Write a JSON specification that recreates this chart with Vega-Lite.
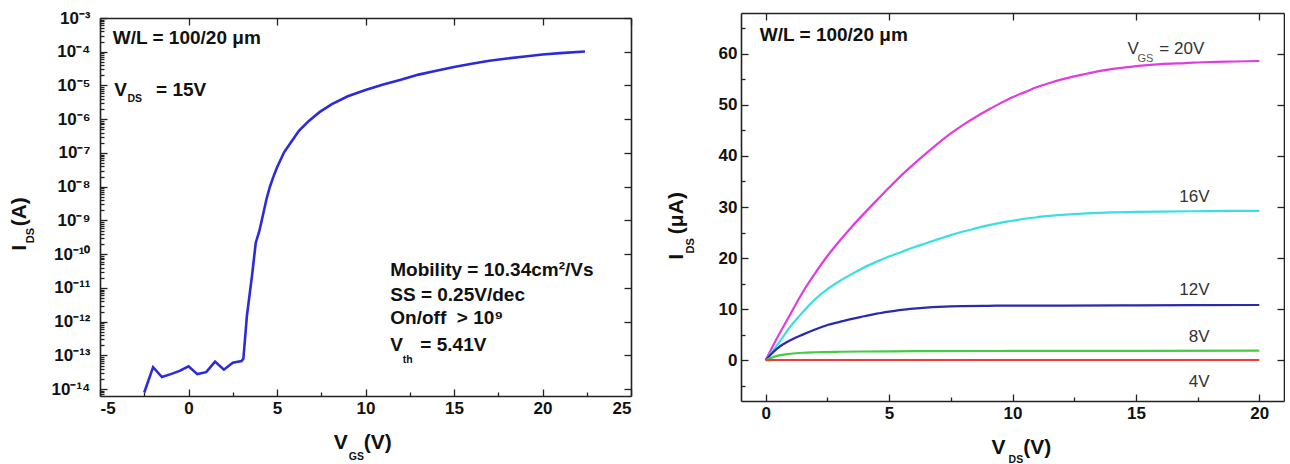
{
  "$schema": "https://vega.github.io/schema/vega-lite/v6.json",
  "background": "white",
  "padding": {"left": 9, "top": 9, "right": 0, "bottom": 0},
  "spacing": 110,
  "bounds": "flush",
  "center": true,
  "config": {
    "view": {"stroke": null},
    "axis": {"grid": false, "domainColor": "#222", "domainWidth": 1.6, "tickColor": "#222", "tickWidth": 1.3, "labelFont": "Liberation Sans", "labelFontWeight": "bold", "labelFontSize": 17, "labelColor": "#111", "labelOverlap": false, "title": null},
    "text": {"font": "Liberation Sans"}
  },
  "hconcat": [
    {
      "width": 531,
      "height": 378,
      "layer": [
        {
          "data": {"values": [
            {"vgs": -2.5, "ids": 8e-15}, {"vgs": -2.0, "ids": 4.5e-14}, {"vgs": -1.5, "ids": 2.3e-14}, {"vgs": -1.0, "ids": 2.8e-14},
            {"vgs": -0.5, "ids": 3.5e-14}, {"vgs": 0.0, "ids": 4.8e-14}, {"vgs": 0.5, "ids": 2.8e-14}, {"vgs": 1.0, "ids": 3.2e-14},
            {"vgs": 1.5, "ids": 6.6e-14}, {"vgs": 2.0, "ids": 3.8e-14}, {"vgs": 2.5, "ids": 6.1e-14}, {"vgs": 3.0, "ids": 6.8e-14},
            {"vgs": 3.1, "ids": 8e-14}, {"vgs": 3.3, "ids": 1.5e-12}, {"vgs": 3.6, "ids": 2.6e-11}, {"vgs": 3.8, "ids": 2.2e-10},
            {"vgs": 4.0, "ids": 4.8e-10}, {"vgs": 4.2, "ids": 1.4e-9}, {"vgs": 4.4, "ids": 4.2e-9}, {"vgs": 4.6, "ids": 1.0e-8},
            {"vgs": 4.8, "ids": 2.0e-8}, {"vgs": 5.0, "ids": 3.7e-8}, {"vgs": 5.4, "ids": 1.05e-7}, {"vgs": 5.85, "ids": 2.3e-7},
            {"vgs": 6.25, "ids": 4.6e-7}, {"vgs": 6.8, "ids": 8.9e-7}, {"vgs": 7.4, "ids": 1.62e-6}, {"vgs": 8.1, "ids": 2.8e-6},
            {"vgs": 9.0, "ids": 4.8e-6}, {"vgs": 10.0, "ids": 7.4e-6}, {"vgs": 11.0, "ids": 1.07e-5}, {"vgs": 12.0, "ids": 1.48e-5},
            {"vgs": 13.0, "ids": 2.1e-5}, {"vgs": 14.0, "ids": 2.75e-5}, {"vgs": 15.0, "ids": 3.55e-5}, {"vgs": 16.0, "ids": 4.4e-5},
            {"vgs": 17.0, "ids": 5.4e-5}, {"vgs": 18.0, "ids": 6.3e-5}, {"vgs": 19.0, "ids": 7.2e-5}, {"vgs": 20.0, "ids": 8.3e-5},
            {"vgs": 21.0, "ids": 9.1e-5}, {"vgs": 22.4, "ids": 1.02e-4}
          ]},
          "mark": {"type": "line", "color": "#2b2bd9", "strokeWidth": 2.6},
          "encoding": {
            "x": {"field": "vgs", "type": "quantitative", "scale": {"domain": [-5, 25], "nice": false, "zero": false},
              "axis": {"orient": "bottom", "values": [-5, -2.5, 0, 2.5, 5, 7.5, 10, 12.5, 15, 17.5, 20, 22.5, 25],
                "labelExpr": "datum.value % 5 === 0 ? '' + datum.value : ''",
                "tickSize": {"condition": {"test": "datum.value % 5 === 0", "value": -7}, "value": -4},
                "labelPadding": 11}},
            "y": {"field": "ids", "type": "quantitative", "scale": {"type": "log", "domain": [6.3e-15, 0.001], "nice": false},
              "axis": {"orient": "left",
                "values": [7e-15, 8e-15, 9e-15,
                  1e-14, 2e-14, 3e-14, 4e-14, 5e-14, 6e-14, 7e-14, 8e-14, 9e-14,
                  1e-13, 2e-13, 3e-13, 4e-13, 5e-13, 6e-13, 7e-13, 8e-13, 9e-13,
                  1e-12, 2e-12, 3e-12, 4e-12, 5e-12, 6e-12, 7e-12, 8e-12, 9e-12,
                  1e-11, 2e-11, 3e-11, 4e-11, 5e-11, 6e-11, 7e-11, 8e-11, 9e-11,
                  1e-10, 2e-10, 3e-10, 4e-10, 5e-10, 6e-10, 7e-10, 8e-10, 9e-10,
                  1e-9, 2e-9, 3e-9, 4e-9, 5e-9, 6e-9, 7e-9, 8e-9, 9e-9,
                  1e-8, 2e-8, 3e-8, 4e-8, 5e-8, 6e-8, 7e-8, 8e-8, 9e-8,
                  1e-7, 2e-7, 3e-7, 4e-7, 5e-7, 6e-7, 7e-7, 8e-7, 9e-7,
                  1e-6, 2e-6, 3e-6, 4e-6, 5e-6, 6e-6, 7e-6, 8e-6, 9e-6,
                  1e-5, 2e-5, 3e-5, 4e-5, 5e-5, 6e-5, 7e-5, 8e-5, 9e-5,
                  1e-4, 2e-4, 3e-4, 4e-4, 5e-4, 6e-4, 7e-4, 8e-4, 9e-4, 1e-3],
                "labelExpr": "abs(log(datum.value)/LN10 - round(log(datum.value)/LN10)) < 0.001 ? '10' + ['⁻³','⁻⁴','⁻⁵','⁻⁶','⁻⁷','⁻⁸','⁻⁹','⁻¹⁰','⁻¹¹','⁻¹²','⁻¹³','⁻¹⁴'][-3 - round(log(datum.value)/LN10)] : ''",
                "tickSize": {"condition": {"test": "abs(log(datum.value)/LN10 - round(log(datum.value)/LN10)) < 0.001", "value": -7}, "value": -4},
                "labelPadding": 17}}
          }
        },
        {
          "data": {"values": [
            {"x": -4.28, "y": 2.57e-4, "t": "W/L = 100/20 μm"},
            {"x": -4.2, "y": 7.4e-6, "t": "V"},
            {"x": -1.83, "y": 7.4e-6, "t": "= 15V"},
            {"x": 11.4, "y": 3.47e-11, "t": "Mobility = 10.34cm²/Vs"},
            {"x": 11.4, "y": 6.3e-12, "t": "SS = 0.25V/dec"},
            {"x": 11.4, "y": 1.26e-12, "t": "On/off\u00a0 > 10⁹"},
            {"x": 11.4, "y": 2.0e-13, "t": "V"},
            {"x": 13.1, "y": 2.0e-13, "t": "= 5.41V"}
          ]},
          "mark": {"type": "text", "align": "left", "baseline": "middle", "fontSize": 19, "fontWeight": "bold", "color": "#111"},
          "encoding": {
            "x": {"field": "x", "type": "quantitative", "axis": {"orient": "top", "values": [-5, 0, 5, 10, 15, 20, 25], "labels": false, "tickSize": -7}},
            "y": {"field": "y", "type": "quantitative", "axis": {"orient": "right", "values": [1e-14, 1e-13, 1e-12, 1e-11, 1e-10, 1e-9, 1e-8, 1e-7, 1e-6, 1e-5, 1e-4, 1e-3], "labels": false, "tickSize": -7}},
            "text": {"field": "t"}
          }
        },
        {
          "data": {"values": [
            {"x": -3.45, "y": 4e-6, "t": "DS"},
            {"x": 12.1, "y": 7.4e-14, "t": "th"},
            {"x": 9.06, "y": 9.8e-17, "t": "GS"}
          ]},
          "mark": {"type": "text", "align": "left", "baseline": "middle", "fontSize": 10.5, "fontWeight": "bold", "color": "#111"},
          "encoding": {
            "x": {"field": "x", "type": "quantitative", "axis": null},
            "y": {"field": "y", "type": "quantitative", "axis": null},
            "text": {"field": "t"}
          }
        },
        {
          "data": {"values": [
            {"x": 8.21, "y": 2.5e-16, "t": "V"},
            {"x": 9.9, "y": 2.5e-16, "t": "(V)"}
          ]},
          "mark": {"type": "text", "align": "left", "baseline": "middle", "fontSize": 21, "fontWeight": "bold", "color": "#111"},
          "encoding": {
            "x": {"field": "x", "type": "quantitative", "axis": null},
            "y": {"field": "y", "type": "quantitative", "axis": null},
            "text": {"field": "t"}
          }
        },
        {
          "data": {"values": [
            {"x": -9.51, "y": 1.55e-10, "t": "I"},
            {"x": -9.51, "y": 1.82e-9, "t": "(A)"}
          ]},
          "mark": {"type": "text", "align": "center", "baseline": "middle", "angle": 270, "fontSize": 21, "fontWeight": "bold", "color": "#111"},
          "encoding": {
            "x": {"field": "x", "type": "quantitative", "axis": null},
            "y": {"field": "y", "type": "quantitative", "axis": null},
            "text": {"field": "t"}
          }
        },
        {
          "data": {"values": [
            {"x": -8.89, "y": 3.55e-10, "t": "DS"}
          ]},
          "mark": {"type": "text", "align": "center", "baseline": "middle", "angle": 270, "fontSize": 11, "fontWeight": "bold", "color": "#111"},
          "encoding": {
            "x": {"field": "x", "type": "quantitative", "axis": null},
            "y": {"field": "y", "type": "quantitative", "axis": null},
            "text": {"field": "t"}
          }
        }
      ]
    },
    {
      "width": 543,
      "height": 388,
      "layer": [
        {
          "data": {"values": [
            {"vds": 0, "ids": 0, "vgs": "20V"}, {"vds": 0.25, "ids": 2.4, "vgs": "20V"}, {"vds": 0.5, "ids": 4.7, "vgs": "20V"}, {"vds": 1, "ids": 9.0, "vgs": "20V"},
            {"vds": 1.5, "ids": 13.3, "vgs": "20V"}, {"vds": 2, "ids": 17.0, "vgs": "20V"}, {"vds": 2.5, "ids": 20.4, "vgs": "20V"}, {"vds": 3, "ids": 23.4, "vgs": "20V"},
            {"vds": 3.5, "ids": 26.2, "vgs": "20V"}, {"vds": 4, "ids": 28.8, "vgs": "20V"}, {"vds": 4.5, "ids": 31.3, "vgs": "20V"}, {"vds": 5, "ids": 33.8, "vgs": "20V"},
            {"vds": 5.5, "ids": 36.2, "vgs": "20V"}, {"vds": 6, "ids": 38.4, "vgs": "20V"}, {"vds": 6.5, "ids": 40.5, "vgs": "20V"}, {"vds": 7, "ids": 42.5, "vgs": "20V"},
            {"vds": 7.5, "ids": 44.4, "vgs": "20V"}, {"vds": 8, "ids": 46.1, "vgs": "20V"}, {"vds": 8.5, "ids": 47.6, "vgs": "20V"}, {"vds": 9, "ids": 49.0, "vgs": "20V"},
            {"vds": 9.5, "ids": 50.3, "vgs": "20V"}, {"vds": 10, "ids": 51.5, "vgs": "20V"}, {"vds": 10.5, "ids": 52.5, "vgs": "20V"}, {"vds": 11, "ids": 53.5, "vgs": "20V"},
            {"vds": 11.5, "ids": 54.3, "vgs": "20V"}, {"vds": 12, "ids": 55.0, "vgs": "20V"}, {"vds": 12.5, "ids": 55.6, "vgs": "20V"}, {"vds": 13, "ids": 56.1, "vgs": "20V"},
            {"vds": 13.5, "ids": 56.6, "vgs": "20V"}, {"vds": 14, "ids": 57.0, "vgs": "20V"}, {"vds": 14.5, "ids": 57.3, "vgs": "20V"}, {"vds": 15, "ids": 57.6, "vgs": "20V"},
            {"vds": 16, "ids": 58.0, "vgs": "20V"}, {"vds": 17, "ids": 58.2, "vgs": "20V"}, {"vds": 18, "ids": 58.4, "vgs": "20V"}, {"vds": 19, "ids": 58.5, "vgs": "20V"},
            {"vds": 20, "ids": 58.6, "vgs": "20V"},
            {"vds": 0, "ids": 0, "vgs": "16V"}, {"vds": 0.5, "ids": 3.2, "vgs": "16V"}, {"vds": 1, "ids": 6.6, "vgs": "16V"}, {"vds": 1.5, "ids": 9.4, "vgs": "16V"},
            {"vds": 2, "ids": 11.9, "vgs": "16V"}, {"vds": 2.5, "ids": 13.9, "vgs": "16V"}, {"vds": 3, "ids": 15.5, "vgs": "16V"}, {"vds": 3.5, "ids": 16.9, "vgs": "16V"},
            {"vds": 4, "ids": 18.2, "vgs": "16V"}, {"vds": 4.5, "ids": 19.3, "vgs": "16V"}, {"vds": 5, "ids": 20.3, "vgs": "16V"}, {"vds": 5.5, "ids": 21.2, "vgs": "16V"},
            {"vds": 6, "ids": 22.1, "vgs": "16V"}, {"vds": 6.5, "ids": 22.9, "vgs": "16V"}, {"vds": 7, "ids": 23.7, "vgs": "16V"}, {"vds": 7.5, "ids": 24.5, "vgs": "16V"},
            {"vds": 8, "ids": 25.2, "vgs": "16V"}, {"vds": 8.5, "ids": 25.8, "vgs": "16V"}, {"vds": 9, "ids": 26.4, "vgs": "16V"}, {"vds": 9.5, "ids": 26.9, "vgs": "16V"},
            {"vds": 10, "ids": 27.3, "vgs": "16V"}, {"vds": 10.5, "ids": 27.7, "vgs": "16V"}, {"vds": 11, "ids": 28.0, "vgs": "16V"}, {"vds": 11.5, "ids": 28.25, "vgs": "16V"},
            {"vds": 12, "ids": 28.45, "vgs": "16V"}, {"vds": 13, "ids": 28.75, "vgs": "16V"}, {"vds": 14, "ids": 28.95, "vgs": "16V"}, {"vds": 15, "ids": 29.05, "vgs": "16V"},
            {"vds": 16, "ids": 29.1, "vgs": "16V"}, {"vds": 18, "ids": 29.2, "vgs": "16V"}, {"vds": 20, "ids": 29.25, "vgs": "16V"},
            {"vds": 0, "ids": 0, "vgs": "12V"}, {"vds": 0.25, "ids": 1.3, "vgs": "12V"}, {"vds": 0.5, "ids": 2.4, "vgs": "12V"}, {"vds": 1, "ids": 3.9, "vgs": "12V"},
            {"vds": 1.5, "ids": 5.0, "vgs": "12V"}, {"vds": 2, "ids": 6.0, "vgs": "12V"}, {"vds": 2.5, "ids": 6.9, "vgs": "12V"}, {"vds": 3, "ids": 7.5, "vgs": "12V"},
            {"vds": 3.5, "ids": 8.1, "vgs": "12V"}, {"vds": 4, "ids": 8.6, "vgs": "12V"}, {"vds": 4.5, "ids": 9.1, "vgs": "12V"}, {"vds": 5, "ids": 9.5, "vgs": "12V"},
            {"vds": 5.5, "ids": 9.85, "vgs": "12V"}, {"vds": 6, "ids": 10.1, "vgs": "12V"}, {"vds": 6.5, "ids": 10.3, "vgs": "12V"}, {"vds": 7, "ids": 10.45, "vgs": "12V"},
            {"vds": 7.5, "ids": 10.55, "vgs": "12V"}, {"vds": 8, "ids": 10.6, "vgs": "12V"}, {"vds": 9, "ids": 10.65, "vgs": "12V"}, {"vds": 10, "ids": 10.7, "vgs": "12V"},
            {"vds": 12, "ids": 10.7, "vgs": "12V"}, {"vds": 15, "ids": 10.75, "vgs": "12V"}, {"vds": 20, "ids": 10.8, "vgs": "12V"},
            {"vds": 0, "ids": 0, "vgs": "8V"}, {"vds": 0.25, "ids": 0.5, "vgs": "8V"}, {"vds": 0.5, "ids": 0.9, "vgs": "8V"}, {"vds": 1, "ids": 1.25, "vgs": "8V"},
            {"vds": 1.5, "ids": 1.45, "vgs": "8V"}, {"vds": 2, "ids": 1.55, "vgs": "8V"}, {"vds": 3, "ids": 1.65, "vgs": "8V"}, {"vds": 4, "ids": 1.7, "vgs": "8V"},
            {"vds": 6, "ids": 1.75, "vgs": "8V"}, {"vds": 10, "ids": 1.8, "vgs": "8V"}, {"vds": 20, "ids": 1.85, "vgs": "8V"},
            {"vds": 0, "ids": 0, "vgs": "4V"}, {"vds": 0.5, "ids": 0.03, "vgs": "4V"}, {"vds": 20, "ids": 0.03, "vgs": "4V"}
          ]},
          "mark": {"type": "line", "strokeWidth": 2.2, "interpolate": "monotone"},
          "encoding": {
            "x": {"field": "vds", "type": "quantitative", "scale": {"domain": [-1, 21], "nice": false, "zero": false},
              "axis": {"orient": "bottom", "values": [0, 2.5, 5, 7.5, 10, 12.5, 15, 17.5, 20],
                "labelExpr": "datum.value % 5 === 0 ? '' + datum.value : ''",
                "tickSize": {"condition": {"test": "datum.value % 5 === 0", "value": -7}, "value": -4},
                "labelPadding": 11}},
            "y": {"field": "ids", "type": "quantitative", "scale": {"domain": [-8, 68], "nice": false, "zero": false},
              "axis": {"orient": "left", "values": [-5, 0, 5, 10, 15, 20, 25, 30, 35, 40, 45, 50, 55, 60, 65],
                "labelExpr": "datum.value % 10 === 0 ? '' + datum.value : ''",
                "tickSize": {"condition": {"test": "datum.value % 10 === 0", "value": -7}, "value": -4},
                "labelPadding": 11}},
            "color": {"field": "vgs", "type": "nominal", "legend": null,
              "scale": {"domain": ["20V", "16V", "12V", "8V", "4V"], "range": ["#e03ce0", "#3ddede", "#2a2aae", "#44cc44", "#f23a3a"]}},
            "detail": {"field": "vgs"}
          }
        },
        {
          "data": {"values": [
            {"x": -0.24, "y": 63.7, "t": "W/L = 100/20 μm"}
          ]},
          "mark": {"type": "text", "align": "left", "baseline": "middle", "fontSize": 19, "fontWeight": "bold", "color": "#111"},
          "encoding": {
            "x": {"field": "x", "type": "quantitative", "axis": {"orient": "top", "values": [0, 5, 10, 15, 20], "labels": false, "tickSize": -7}},
            "y": {"field": "y", "type": "quantitative", "axis": {"orient": "right", "values": [0, 10, 20, 30, 40, 50, 60], "labels": false, "tickSize": -7}},
            "text": {"field": "t"}
          }
        },
        {
          "data": {"values": [
            {"x": 14.66, "y": 60.9, "t": "V"},
            {"x": 15.95, "y": 60.9, "t": "= 20V"},
            {"x": 16.76, "y": 32.0, "t": "16V"},
            {"x": 16.76, "y": 13.7, "t": "12V"},
            {"x": 17.14, "y": 4.6, "t": "8V"},
            {"x": 17.14, "y": -4.3, "t": "4V"}
          ]},
          "mark": {"type": "text", "align": "left", "baseline": "middle", "fontSize": 17, "color": "#333"},
          "encoding": {
            "x": {"field": "x", "type": "quantitative", "axis": null},
            "y": {"field": "y", "type": "quantitative", "axis": null},
            "text": {"field": "t"}
          }
        },
        {
          "data": {"values": [
            {"x": 15.06, "y": 59.0, "t": "GS"}
          ]},
          "mark": {"type": "text", "align": "left", "baseline": "middle", "fontSize": 11, "color": "#555"},
          "encoding": {
            "x": {"field": "x", "type": "quantitative", "axis": null},
            "y": {"field": "y", "type": "quantitative", "axis": null},
            "text": {"field": "t"}
          }
        },
        {
          "data": {"values": [
            {"x": 9.15, "y": -17.2, "t": "V"},
            {"x": 10.44, "y": -17.2, "t": "(V)"}
          ]},
          "mark": {"type": "text", "align": "left", "baseline": "middle", "fontSize": 21, "fontWeight": "bold", "color": "#111"},
          "encoding": {
            "x": {"field": "x", "type": "quantitative", "axis": null},
            "y": {"field": "y", "type": "quantitative", "axis": null},
            "text": {"field": "t"}
          }
        },
        {
          "data": {"values": [
            {"x": 9.84, "y": -19.5, "t": "DS"}
          ]},
          "mark": {"type": "text", "align": "left", "baseline": "middle", "fontSize": 10.5, "fontWeight": "bold", "color": "#111"},
          "encoding": {
            "x": {"field": "x", "type": "quantitative", "axis": null},
            "y": {"field": "y", "type": "quantitative", "axis": null},
            "text": {"field": "t"}
          }
        },
        {
          "data": {"values": [
            {"x": -3.6, "y": 20.25, "t": "I"},
            {"x": -3.6, "y": 28.8, "t": "(μA)"}
          ]},
          "mark": {"type": "text", "align": "center", "baseline": "middle", "angle": 270, "fontSize": 21, "fontWeight": "bold", "color": "#111"},
          "encoding": {
            "x": {"field": "x", "type": "quantitative", "axis": null},
            "y": {"field": "y", "type": "quantitative", "axis": null},
            "text": {"field": "t"}
          }
        },
        {
          "data": {"values": [
            {"x": -3.02, "y": 22.4, "t": "DS"}
          ]},
          "mark": {"type": "text", "align": "center", "baseline": "middle", "angle": 270, "fontSize": 11, "fontWeight": "bold", "color": "#111"},
          "encoding": {
            "x": {"field": "x", "type": "quantitative", "axis": null},
            "y": {"field": "y", "type": "quantitative", "axis": null},
            "text": {"field": "t"}
          }
        }
      ]
    }
  ]
}
